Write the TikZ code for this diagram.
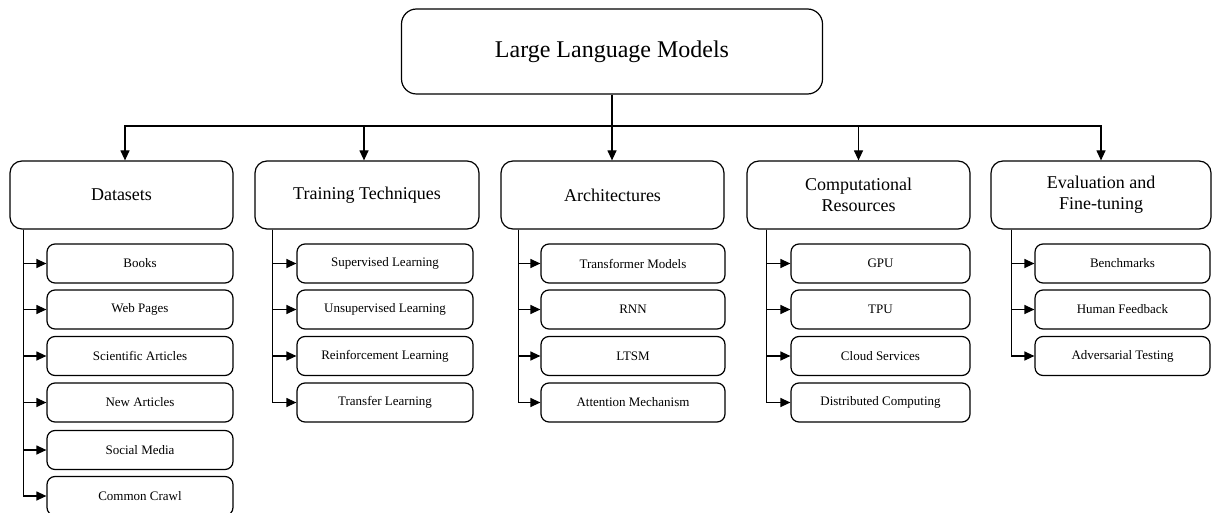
\documentclass[tikz,border=0pt]{standalone}
\usepackage{fontspec}
\setmainfont{Liberation Serif}
\usetikzlibrary{arrows.meta}
\begin{document}
\begin{tikzpicture}[x=1pt,y=-1pt,
  topbox/.style={draw, line width=1.2pt, rounded corners=15pt, minimum width=421pt, minimum height=85pt, inner sep=0pt, font=\fontsize{24}{28}\selectfont},
  catbox/.style={draw, line width=1.2pt, rounded corners=12pt, minimum height=68pt, inner sep=0pt, align=center, font=\fontsize{18}{21}\selectfont},
  leaf/.style={draw, line width=1.2pt, rounded corners=8pt, minimum height=39pt, inner sep=0pt, font=\fontsize{13}{15}\selectfont},
  arr/.style={line width=1.2pt, -{Triangle[length=10pt,width=9pt]}},
  link/.style={line width=1.2pt}
]
\useasboundingbox (0,0) rectangle (1212,513);

% root
\node[topbox] (llm) at (612,51.5) {Large Language Models};

% categories
\node[catbox, minimum width=223pt] (ds) at (121.5,195) {Datasets};
\node[catbox, minimum width=224pt] (tt) at (367,195) {Training Techniques};
\node[catbox, minimum width=223pt] (ar) at (612.5,195) {Architectures};
\node[catbox, minimum width=223pt] (cr) at (858.5,195) {Computational\\Resources};
\node[catbox, minimum width=220pt] (ef) at (1101,195) {Evaluation and\\Fine-tuning};

% Datasets leaves
\node[leaf, minimum width=186pt] (d1) at (140,263.5) {Books};
\node[leaf, minimum width=186pt] (d2) at (140,309.5) {Web Pages};
\node[leaf, minimum width=186pt] (d3) at (140,356) {Scientific Articles};
\node[leaf, minimum width=186pt] (d4) at (140,402.5) {New Articles};
\node[leaf, minimum width=186pt] (d5) at (140,450) {Social Media};
\node[leaf, minimum width=186pt] (d6) at (140,496) {Common Crawl};

% Training leaves
\node[leaf, minimum width=176pt] (t1) at (385,263.5) {Supervised Learning};
\node[leaf, minimum width=176pt] (t2) at (385,309.5) {Unsupervised Learning};
\node[leaf, minimum width=176pt] (t3) at (385,356) {Reinforcement Learning};
\node[leaf, minimum width=176pt] (t4) at (385,402.5) {Transfer Learning};

% Architecture leaves
\node[leaf, minimum width=184pt] (a1) at (633,263.5) {Transformer Models};
\node[leaf, minimum width=184pt] (a2) at (633,309.5) {RNN};
\node[leaf, minimum width=184pt] (a3) at (633,356) {LTSM};
\node[leaf, minimum width=184pt] (a4) at (633,402.5) {Attention Mechanism};

% Computational leaves
\node[leaf, minimum width=179pt] (c1) at (880.5,263.5) {GPU};
\node[leaf, minimum width=179pt] (c2) at (880.5,309.5) {TPU};
\node[leaf, minimum width=179pt] (c3) at (880.5,356) {Cloud Services};
\node[leaf, minimum width=179pt] (c4) at (880.5,402.5) {Distributed Computing};

% Evaluation leaves
\node[leaf, minimum width=175pt] (e1) at (1122.5,263.5) {Benchmarks};
\node[leaf, minimum width=175pt] (e2) at (1122.5,309.5) {Human Feedback};
\node[leaf, minimum width=175pt] (e3) at (1122.5,356) {Adversarial Testing};

% root to categories
\coordinate (bar) at (612,126);
\draw[link] (llm.south) -- (bar);
\draw[arr] (bar) -| ([xshift=3.5pt]ds.north);
\draw[arr] (bar) -| ([xshift=-3pt]tt.north);
\draw[arr] (bar) -- (bar |- ar.north);
\draw[arr] (bar) -| (cr.north);
\draw[arr] (bar) -| (ef.north);

% category spines
\coordinate (dsl) at ([xshift=14pt]ds.south west);
\coordinate (ttl) at ([xshift=18pt]tt.south west);
\coordinate (arl) at ([xshift=18pt]ar.south west);
\coordinate (crl) at ([xshift=20pt]cr.south west);
\coordinate (efl) at ([xshift=21pt]ef.south west);

\foreach \n in {d1,d2,d3,d4,d5,d6} \draw[arr] (dsl) |- (\n.west);
\foreach \n in {t1,t2,t3,t4} \draw[arr] (ttl) |- (\n.west);
\foreach \n in {a1,a2,a3,a4} \draw[arr] (arl) |- (\n.west);
\foreach \n in {c1,c2,c3,c4} \draw[arr] (crl) |- (\n.west);
\foreach \n in {e1,e2,e3} \draw[arr] (efl) |- (\n.west);
\end{tikzpicture}
\end{document}
